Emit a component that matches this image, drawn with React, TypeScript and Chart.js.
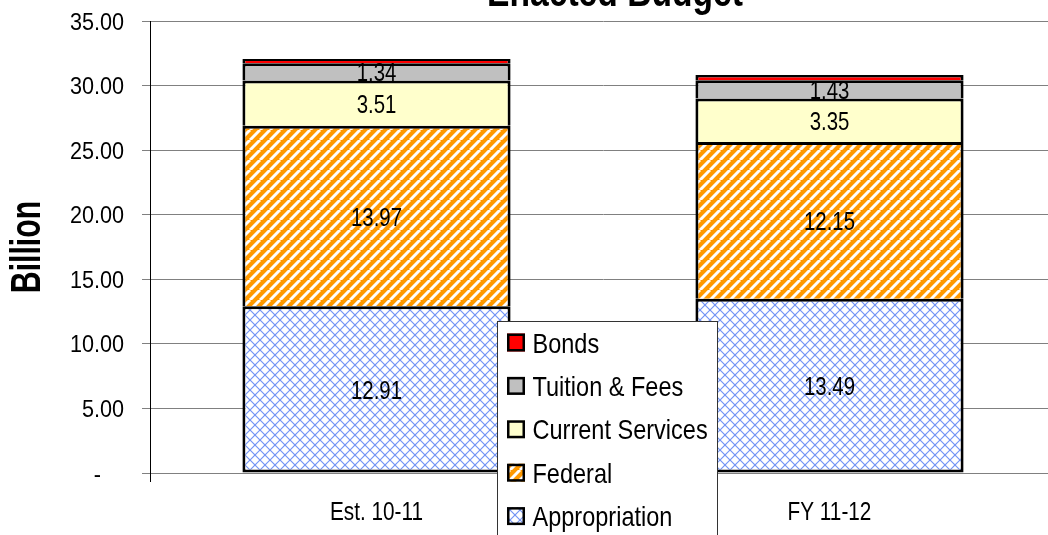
import React, { useEffect, useRef } from "react";
import { Chart, registerables } from "chart.js";

Chart.register(...registerables);

const chartTitle = "Enacted Budget";
const yAxisTitle = "Billion";
const categories = ["Est. 10-11", "FY 11-12"];
const appropriation = [12.91, 13.49];
const federal = [13.97, 12.15];
const currentServices = [3.51, 3.35];
const tuitionFees = [1.34, 1.43];
const bonds = [0.33, 0.4];
const yMin = 0;
const yMax = 35;
const yStep = 5;

const FONT = '"Liberation Sans", Arial, sans-serif';

function makeCrossHatch(): CanvasPattern | string {
  const c = document.createElement("canvas");
  const s = 10;
  c.width = s;
  c.height = s;
  const g = c.getContext("2d");
  if (!g) return "#fff";
  g.fillStyle = "#ffffff";
  g.fillRect(0, 0, s, s);
  g.strokeStyle = "#7394f4";
  g.lineWidth = 1.2;
  for (const off of [-s, 0, s]) {
    g.beginPath();
    g.moveTo(off, 0);
    g.lineTo(off + s, s);
    g.stroke();
    g.beginPath();
    g.moveTo(off, s);
    g.lineTo(off + s, 0);
    g.stroke();
  }
  return g.createPattern(c, "repeat") || "#fff";
}

function makeStripes(): CanvasPattern | string {
  const c = document.createElement("canvas");
  const s = 10;
  c.width = s;
  c.height = s;
  const g = c.getContext("2d");
  if (!g) return "#FF9900";
  g.fillStyle = "#FF9900";
  g.fillRect(0, 0, s, s);
  g.strokeStyle = "#ffffff";
  g.lineWidth = 3;
  for (const off of [-s, 0, s]) {
    g.beginPath();
    g.moveTo(off, s);
    g.lineTo(off + s, 0);
    g.stroke();
  }
  return g.createPattern(c, "repeat") || "#FF9900";
}

function drawText(
  ctx: CanvasRenderingContext2D,
  text: string,
  x: number,
  y: number,
  font: string,
  sx: number,
  align: "left" | "center" | "right"
) {
  ctx.save();
  ctx.font = font;
  ctx.textBaseline = "alphabetic";
  ctx.textAlign = "left";
  ctx.fillStyle = "#000";
  const w = ctx.measureText(text).width * sx;
  const x0 = align === "center" ? x - w / 2 : align === "right" ? x - w : x;
  ctx.translate(x0, y);
  ctx.scale(sx, 1);
  ctx.fillText(text, 0, 0);
  ctx.restore();
}

const textPlugin = {
  id: "customText",
  afterDraw(chart: any) {
    const ctx: CanvasRenderingContext2D = chart.ctx;
    const yScale = chart.scales.y;
    const xScale = chart.scales.x;

    // y tick labels
    const tickFont = `23.5px ${FONT}`;
    yScale.ticks.forEach((t: any) => {
      const py = yScale.getPixelForValue(t.value);
      if (t.value === 0) {
        drawText(ctx, "-", 101, py + 8.5, tickFont, 0.92, "right");
      } else {
        drawText(ctx, t.value.toFixed(2), 124, py + 8.5, tickFont, 0.92, "right");
      }
    });

    // x labels
    categories.forEach((c, i) => {
      const px = xScale.getPixelForValue(i);
      drawText(ctx, c, px, 520, `25px ${FONT}`, 0.83, "center");
    });

    // data labels
    chart.data.datasets.forEach((ds: any, di: number) => {
      if (ds.label === "Bonds") return;
      const meta = chart.getDatasetMeta(di);
      meta.data.forEach((el: any, i: number) => {
        const cy = (el.y + el.base) / 2;
        drawText(ctx, Number(ds.data[i]).toFixed(2), el.x, cy + 9.5, `26.5px ${FONT}`, 0.77, "center");
      });
    });

    // title
    drawText(ctx, chartTitle, 615, 6, `bold 42px ${FONT}`, 0.8, "center");

    // y axis title
    ctx.save();
    ctx.translate(40, 247);
    ctx.rotate(-Math.PI / 2);
    drawText(ctx, yAxisTitle, 0, 0, `bold 42px ${FONT}`, 0.72, "center");
    ctx.restore();

    // legend
    ctx.save();
    ctx.fillStyle = "#ffffff";
    ctx.fillRect(497, 321, 221, 240);
    ctx.strokeStyle = "#333";
    ctx.lineWidth = 1;
    ctx.strokeRect(497.5, 321.5, 220, 240);
    const items = [...chart.data.datasets].reverse();
    items.forEach((ds: any, k: number) => {
      const cy = 342.5 + k * 43.4;
      ctx.fillStyle = ds.backgroundColor;
      ctx.fillRect(507, cy - 9, 18, 18);
      ctx.strokeStyle = "#000";
      ctx.lineWidth = 2.5;
      ctx.strokeRect(508.25, cy - 7.75, 15.5, 15.5);
      drawText(ctx, ds.label, 532.5, cy + 10, `28px ${FONT}`, 0.84, "left");
    });
    ctx.restore();
  },
};

export default function App() {
  const ref = useRef<HTMLCanvasElement | null>(null);

  useEffect(() => {
    if (!ref.current) return;
    const cross = makeCrossHatch();
    const stripes = makeStripes();
    const common = {
      borderColor: "#000",
      borderWidth: 3,
      categoryPercentage: 1,
      barPercentage: 0.592,
    };
    const chart = new Chart(ref.current, {
      type: "bar",
      data: {
        labels: categories,
        datasets: [
          { label: "Appropriation", data: appropriation, backgroundColor: cross as any, borderSkipped: false, ...common },
          { label: "Federal", data: federal, backgroundColor: stripes as any, borderSkipped: "bottom", ...common },
          { label: "Current Services", data: currentServices, backgroundColor: "#FFFFCC", borderSkipped: "bottom", ...common },
          { label: "Tuition & Fees", data: tuitionFees, backgroundColor: "#C0C0C0", borderSkipped: "bottom", ...common },
          { label: "Bonds", data: bonds, backgroundColor: "#FF0000", borderSkipped: "bottom", ...common },
        ] as any,
      },
      options: {
        animation: false,
        responsive: false,
        devicePixelRatio: 1,
        events: [],
        layout: { padding: { top: 21, right: 8, left: 0, bottom: 0 } },
        plugins: {
          legend: { display: false },
          tooltip: { enabled: false },
          title: { display: false },
        },
        scales: {
          x: {
            stacked: true,
            ticks: { display: false },
            grid: {
              display: true,
              drawOnChartArea: false,
              drawTicks: true,
              tickLength: 9,
              color: "#000",
              offset: true,
            },
            border: { display: true, color: "#808080", width: 1 },
            afterFit: (s: any) => {
              s.height = 62;
            },
          },
          y: {
            stacked: true,
            min: yMin,
            max: yMax,
            ticks: { display: false, stepSize: yStep },
            grid: { color: "#808080", lineWidth: 1, tickLength: 8, drawTicks: true },
            border: { display: true, color: "#000", width: 1 },
            afterFit: (s: any) => {
              s.width = 150;
            },
          },
        },
      } as any,
      plugins: [textPlugin],
    });
    return () => chart.destroy();
  }, []);

  return (
    <div
      style={{
        position: "fixed",
        left: 0,
        top: 0,
        width: 1048,
        height: 535,
        overflow: "hidden",
        background: "#fff",
      }}
    >
      <canvas ref={ref} width={1064} height={535} style={{ display: "block" }} />
    </div>
  );
}
